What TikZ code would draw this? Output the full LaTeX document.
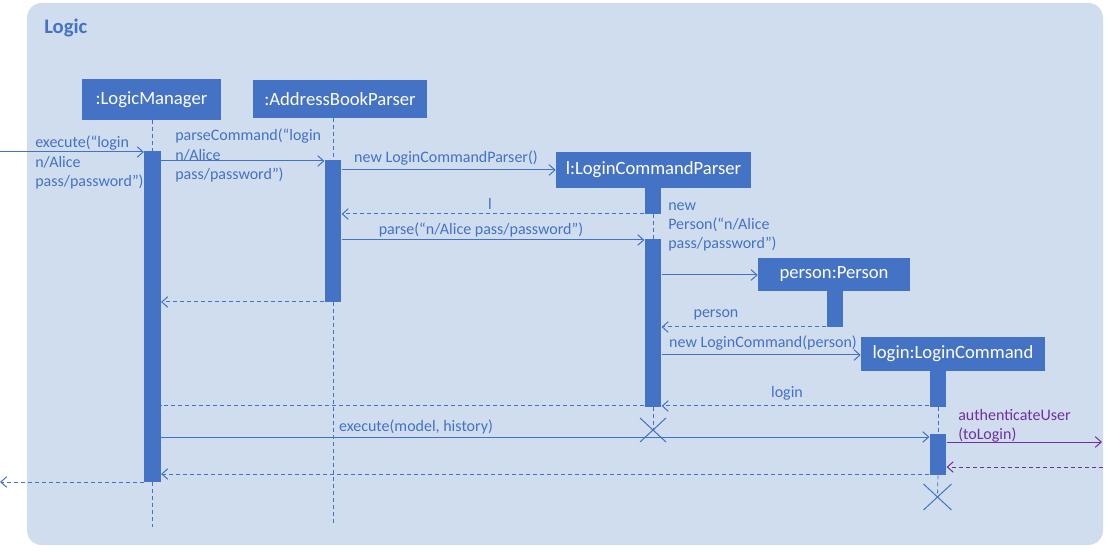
\documentclass[tikz,border=0pt]{standalone}
\usepackage{fontspec}
\setmainfont{Carlito}
\usetikzlibrary{arrows.meta}
\definecolor{uml}{HTML}{4472C4}
\definecolor{framefill}{RGB}{208,221,239}
\definecolor{callcol}{HTML}{7030A0}
% object box: name, x, y, width(px), height(px), text
\newcommand\objbox[6]{\node[obj, minimum width={#4*0.75pt}, minimum height={#5*0.75pt}] (#1) at (#2,#3) {#6};}
% activation bar: name, x, top, bottom
\newcommand\actbox[4]{\node[actbar, minimum height={(#4-#3)*0.75pt}] (#1) at (#2,{(#3+#4)/2}) {};}
\begin{document}
\begin{tikzpicture}[x=0.75pt,y=-0.75pt,
  obj/.style={fill=uml, text=white, font=\fontsize{14}{17}\selectfont, inner sep=0pt},
  actbar/.style={fill=uml, inner sep=0pt, minimum width=12.5pt},
  msg/.style={draw=uml, line width=0.75pt, -{Straight Barb[length=4.5pt,width=8pt,line width=0.75pt]}},
  ret/.style={msg, dash pattern=on 3pt off 2.25pt},
  retline/.style={draw=uml, line width=0.75pt, dash pattern=on 3pt off 2.25pt},
  life/.style={draw=uml, line width=0.6pt, dash pattern=on 3pt off 2.25pt},
  lbl/.style={text=uml, font=\fontsize{12}{14.6}\selectfont, inner sep=0pt, align=left},
  xmark/.style={draw=uml, line width=0.75pt}
]
\useasboundingbox (0,0) rectangle (1118,552);
% frame
\fill[framefill, rounded corners=11pt] (27,3) rectangle (1103,545);
\node[anchor=west, text=uml, font=\bfseries\fontsize{15.5}{18}\selectfont, inner sep=0pt] (title) at (44,28) {Logic};

% participants
\objbox{lmbox}{151.5}{99.5}{139}{41}{:LogicManager}
\objbox{abpbox}{340}{99}{174}{38}{:AddressBookParser}
\objbox{lcpbox}{653.5}{170}{195}{36}{l:LoginCommandParser}
\objbox{perbox}{834}{274.5}{152}{33}{person:Person}
\objbox{lcbox}{953}{354}{184}{34}{login:LoginCommand}

% activation bars
\actbox{lmbar}{152.5}{151}{482}
\actbox{abpbar}{333}{160}{302}
\actbox{lcpbarA}{653}{187}{214}
\actbox{lcpbarB}{653}{239}{407}
\actbox{perbar}{835}{290}{327}
\actbox{lcbarA}{938}{370}{407}
\actbox{lcbarB}{938}{434}{475}

% lifelines
\coordinate (lmend) at (152.5,527);
\coordinate (abpend) at (333,524);
\coordinate (lcpx) at (653,430);
\coordinate (lcx) at (937.5,497);
\draw[life] (lmbar.north |- lmbox.south) -- (lmbar.north);
\draw[life] (lmbar.south) -- (lmend);
\draw[life] (abpbar.north |- abpbox.south) -- (abpbar.north);
\draw[life] (abpbar.south) -- (abpend);
\draw[life] (lcpbarA.south) -- (lcpbarB.north);
\draw[life] (lcpbarB.south) -- (lcpx);
\draw[life] (lcbarA.south) -- (lcbarB.north);
\draw[life] (lcbarB.south) -- (lcx);

% destruction marks
\draw[xmark] ([shift={(-13,-12)}]lcpx) -- ([shift={(13,12)}]lcpx);
\draw[xmark] ([shift={(-13,12)}]lcpx) -- ([shift={(13,-12)}]lcpx);
\draw[xmark] ([shift={(-14,-13)}]lcx) -- ([shift={(14,13)}]lcx);
\draw[xmark] ([shift={(-14,13)}]lcx) -- ([shift={(14,-13)}]lcx);

% messages
\coordinate (inL) at (0,152);
\coordinate (outL) at (0,482);
\draw[msg] (inL) -- (lmbar.west |- inL);
\draw[msg] (lmbar.east |- 0,161) -- (abpbar.west |- 0,161);
\draw[msg] (abpbar.east |- 0,170) -- (lcpbox.west |- 0,170);
\draw[ret] (lcpbarA.west |- 0,214) -- (abpbar.east |- 0,214);
\draw[msg] (abpbar.east |- 0,240) -- (lcpbarB.west |- 0,240);
\draw[ret] (abpbar.west |- 0,302) -- (lmbar.east |- 0,302);
\draw[msg] (lcpbarB.east |- 0,275) -- (perbox.west |- 0,275);
\draw[ret] (perbar.west |- 0,327) -- (lcpbarB.east |- 0,327);
\draw[msg] (lcpbarB.east |- 0,355) -- (lcbox.west |- 0,355);
\draw[ret] (lcbarA.west |- 0,406) -- (lcpbarB.east |- 0,406);
\draw[retline] (lcpbarB.west |- 0,406) -- (lmbar.east |- 0,406);
\draw[msg] (lmbar.east |- 0,437) -- (lcbarB.west |- 0,437);
\draw[ret] (lcbarB.west |- 0,474) -- (lmbar.east |- 0,474);
\draw[ret] (lmbar.west |- outL) -- (outL);
\coordinate (extOut) at (1102,442);
\coordinate (extIn) at (1103,467);
\draw[msg, draw=callcol] (lcbarB.east |- extOut) -- (extOut);
\draw[ret, draw=callcol] (extIn) -- (lcbarB.east |- extIn);

% message labels
\node[lbl, anchor=north west] (t1) at (35,136) {execute(“login\\n/Alice\\pass/password”)};
\node[lbl, anchor=north west] (t2) at (175,129) {parseCommand(“login\\n/Alice\\pass/password”)};
\node[lbl] (t3) at (446,158) {new LoginCommandParser()};
\node[lbl] (t4) at (490,204) {l};
\node[lbl] (t5) at (481,230) {parse(“n/Alice pass/password”)};
\node[lbl, anchor=north west] (t6) at (668,202) {new\\Person(“n/Alice\\pass/password”)};
\node[lbl] (t7) at (716,315) {person};
\node[lbl] (t8) at (763,343) {new LoginCommand(person)};
\node[lbl] (t9) at (787,393) {login};
\node[lbl] (t10) at (416,427) {execute(model, history)};
\node[lbl, text=callcol, anchor=north west] (t11) at (958,409) {authenticateUser\\(toLogin)};
\end{tikzpicture}
\end{document}
